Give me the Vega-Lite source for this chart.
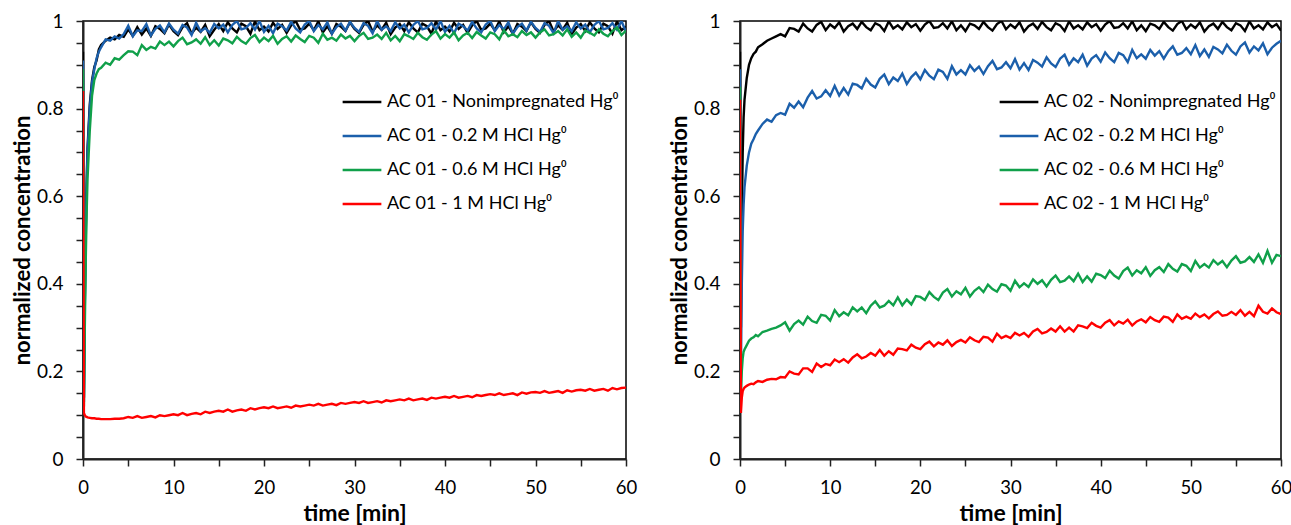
{
"$schema": "https://vega.github.io/schema/vega-lite/v6.json",
"padding": {"left": 10, "top": 11, "right": 0, "bottom": 0},
"background": "white",
"config": {
  "view": {"stroke": "#000", "strokeWidth": 1.5},
  "font": "Lato",
  "axis": {"domainColor": "#222", "domainWidth": 2, "tickColor": "#222", "tickWidth": 1.5, "tickSize": 7, "labelFontSize": 19, "labelColor": "#000", "labelFont": "Lato", "titleFont": "Lato", "titleFontSize": 22, "titleFontWeight": "bold", "titleColor": "#000", "grid": false, "labelOverlap": false},
  "axisX": {"titleFontSize": 23, "labelFontSize": 18.5}
},
"datasets": {
"ac01": [
{"t":0,"n":0.93,"b":0.91,"g":0.89,"r":0.84},
{"t":0.1,"n":0.14,"b":0.13,"g":0.12,"r":0.105},
{"t":0.2,"n":0.36,"b":0.35,"g":0.3,"r":0.1},
{"t":0.3,"n":0.52,"b":0.5,"g":0.45,"r":0.097},
{"t":0.4,"n":0.63,"b":0.62,"g":0.56,"r":0.096},
{"t":0.5,"n":0.71,"b":0.7,"g":0.64,"r":0.095},
{"t":0.75,"n":0.81,"b":0.8,"g":0.75,"r":0.094},
{"t":1,"n":0.865,"b":0.86,"g":0.83,"r":0.093},
{"t":1.25,"n":0.895,"b":0.89,"g":0.865,"r":0.093},
{"t":1.5,"n":0.91,"b":0.915,"g":0.88,"r":0.092},
{"t":1.75,"n":0.935,"b":0.93,"g":0.89,"r":0.092},
{"t":2,"n":0.945,"b":0.94,"g":0.893,"r":0.091},
{"t":2.5,"n":0.955,"b":0.958,"g":0.905,"r":0.091},
{"t":3,"n":0.962,"b":0.955,"g":0.9,"r":0.091},
{"t":3.5,"n":0.958,"b":0.965,"g":0.915,"r":0.092},
{"t":4,"n":0.968,"b":0.96,"g":0.912,"r":0.092},
{"t":4.5,"n":0.964,"b":0.97,"g":0.922,"r":0.093},
{"t":5,"n":0.981,"b":0.989,"g":0.931,"r":0.096},
{"t":5.5,"n":0.966,"b":0.965,"g":0.93,"r":0.094},
{"t":6,"n":0.986,"b":0.979,"g":0.922,"r":0.098},
{"t":6.5,"n":0.969,"b":0.977,"g":0.945,"r":0.094},
{"t":7,"n":0.983,"b":0.993,"g":0.934,"r":0.096},
{"t":7.5,"n":0.966,"b":0.967,"g":0.941,"r":0.098},
{"t":8,"n":0.988,"b":0.982,"g":0.937,"r":0.095},
{"t":8.5,"n":0.982,"b":0.99,"g":0.953,"r":0.1},
{"t":9,"n":0.972,"b":0.974,"g":0.945,"r":0.098},
{"t":9.5,"n":0.992,"b":0.994,"g":0.953,"r":0.1},
{"t":10,"n":0.977,"b":0.98,"g":0.942,"r":0.102},
{"t":10.5,"n":0.968,"b":0.971,"g":0.954,"r":0.1},
{"t":11,"n":0.986,"b":0.991,"g":0.962,"r":0.105},
{"t":11.5,"n":0.995,"b":0.985,"g":0.947,"r":0.1},
{"t":12,"n":0.971,"b":0.968,"g":0.951,"r":0.103},
{"t":12.5,"n":0.985,"b":0.996,"g":0.958,"r":0.105},
{"t":13,"n":0.975,"b":0.976,"g":0.948,"r":0.102},
{"t":13.5,"n":0.991,"b":0.984,"g":0.963,"r":0.108},
{"t":14,"n":0.965,"b":0.973,"g":0.945,"r":0.105},
{"t":14.5,"n":0.98,"b":0.993,"g":0.956,"r":0.108},
{"t":15,"n":0.993,"b":0.983,"g":0.944,"r":0.11},
{"t":15.5,"n":0.977,"b":0.992,"g":0.96,"r":0.108},
{"t":16,"n":0.997,"b":0.974,"g":0.956,"r":0.113},
{"t":16.5,"n":0.983,"b":0.991,"g":0.949,"r":0.108},
{"t":17,"n":0.974,"b":1.0,"g":0.964,"r":0.111},
{"t":17.5,"n":0.994,"b":0.981,"g":0.954,"r":0.113},
{"t":18,"n":0.988,"b":0.984,"g":0.948,"r":0.11},
{"t":18.5,"n":0.971,"b":0.995,"g":0.961,"r":0.116},
{"t":19,"n":0.999,"b":0.98,"g":0.968,"r":0.113},
{"t":19.5,"n":0.979,"b":1.0,"g":0.952,"r":0.116},
{"t":20,"n":0.987,"b":0.975,"g":0.962,"r":0.118},
{"t":20.5,"n":0.976,"b":0.989,"g":0.954,"r":0.116},
{"t":21,"n":0.996,"b":0.972,"g":0.966,"r":0.12},
{"t":21.5,"n":0.982,"b":0.994,"g":0.948,"r":0.116},
{"t":22,"n":0.991,"b":0.988,"g":0.959,"r":0.118},
{"t":22.5,"n":0.973,"b":0.978,"g":0.965,"r":0.12},
{"t":23,"n":0.99,"b":0.998,"g":0.953,"r":0.117},
{"t":23.5,"n":1.0,"b":0.983,"g":0.967,"r":0.122},
{"t":24,"n":0.98,"b":0.974,"g":0.959,"r":0.12},
{"t":24.5,"n":0.983,"b":0.992,"g":0.952,"r":0.122},
{"t":25,"n":0.994,"b":1.0,"g":0.966,"r":0.124},
{"t":25.5,"n":0.979,"b":0.977,"g":0.962,"r":0.122},
{"t":26,"n":0.999,"b":0.991,"g":0.95,"r":0.126},
{"t":26.5,"n":0.974,"b":0.981,"g":0.971,"r":0.122},
{"t":27,"n":0.988,"b":0.997,"g":0.957,"r":0.124},
{"t":27.5,"n":0.971,"b":0.971,"g":0.962,"r":0.126},
{"t":28,"n":0.993,"b":0.986,"g":0.955,"r":0.123},
{"t":28.5,"n":0.987,"b":0.994,"g":0.969,"r":0.128},
{"t":29,"n":0.977,"b":0.978,"g":0.96,"r":0.126},
{"t":29.5,"n":0.997,"b":0.998,"g":0.966,"r":0.128},
{"t":30,"n":0.982,"b":0.984,"g":0.954,"r":0.13},
{"t":30.5,"n":0.973,"b":0.975,"g":0.966,"r":0.128},
{"t":31,"n":0.991,"b":0.995,"g":0.973,"r":0.132},
{"t":31.5,"n":1.0,"b":0.989,"g":0.959,"r":0.128},
{"t":32,"n":0.976,"b":0.972,"g":0.962,"r":0.13},
{"t":32.5,"n":0.99,"b":1.0,"g":0.969,"r":0.132},
{"t":33,"n":0.98,"b":0.98,"g":0.959,"r":0.129},
{"t":33.5,"n":0.996,"b":0.988,"g":0.973,"r":0.134},
{"t":34,"n":0.97,"b":0.977,"g":0.956,"r":0.132},
{"t":34.5,"n":0.985,"b":0.997,"g":0.966,"r":0.134},
{"t":35,"n":0.993,"b":0.983,"g":0.954,"r":0.136},
{"t":35.5,"n":0.977,"b":0.992,"g":0.97,"r":0.134},
{"t":36,"n":0.997,"b":0.974,"g":0.965,"r":0.138},
{"t":36.5,"n":0.983,"b":0.991,"g":0.959,"r":0.134},
{"t":37,"n":0.974,"b":1.0,"g":0.973,"r":0.136},
{"t":37.5,"n":0.994,"b":0.981,"g":0.963,"r":0.138},
{"t":38,"n":0.988,"b":0.984,"g":0.957,"r":0.135},
{"t":38.5,"n":0.971,"b":0.995,"g":0.969,"r":0.14},
{"t":39,"n":0.999,"b":0.98,"g":0.977,"r":0.138},
{"t":39.5,"n":0.979,"b":1.0,"g":0.96,"r":0.14},
{"t":40,"n":0.987,"b":0.975,"g":0.97,"r":0.142},
{"t":40.5,"n":0.976,"b":0.989,"g":0.962,"r":0.14},
{"t":41,"n":0.996,"b":0.972,"g":0.974,"r":0.144},
{"t":41.5,"n":0.982,"b":0.994,"g":0.956,"r":0.14},
{"t":42,"n":0.991,"b":0.988,"g":0.967,"r":0.142},
{"t":42.5,"n":0.973,"b":0.978,"g":0.973,"r":0.144},
{"t":43,"n":0.99,"b":0.998,"g":0.961,"r":0.141},
{"t":43.5,"n":1.0,"b":0.983,"g":0.975,"r":0.146},
{"t":44,"n":0.98,"b":0.974,"g":0.967,"r":0.144},
{"t":44.5,"n":0.983,"b":0.992,"g":0.96,"r":0.146},
{"t":45,"n":0.994,"b":1.0,"g":0.974,"r":0.148},
{"t":45.5,"n":0.979,"b":0.977,"g":0.97,"r":0.146},
{"t":46,"n":0.999,"b":0.991,"g":0.958,"r":0.15},
{"t":46.5,"n":0.974,"b":0.981,"g":0.979,"r":0.146},
{"t":47,"n":0.988,"b":0.997,"g":0.965,"r":0.148},
{"t":47.5,"n":0.971,"b":0.971,"g":0.97,"r":0.15},
{"t":48,"n":0.993,"b":0.986,"g":0.963,"r":0.146},
{"t":48.5,"n":0.987,"b":0.994,"g":0.977,"r":0.152},
{"t":49,"n":0.977,"b":0.978,"g":0.968,"r":0.149},
{"t":49.5,"n":0.997,"b":0.998,"g":0.974,"r":0.152},
{"t":50,"n":0.982,"b":0.984,"g":0.962,"r":0.153},
{"t":50.5,"n":0.973,"b":0.975,"g":0.974,"r":0.151},
{"t":51,"n":0.991,"b":0.995,"g":0.981,"r":0.155},
{"t":51.5,"n":1.0,"b":0.989,"g":0.967,"r":0.151},
{"t":52,"n":0.976,"b":0.972,"g":0.97,"r":0.153},
{"t":52.5,"n":0.99,"b":1.0,"g":0.977,"r":0.155},
{"t":53,"n":0.98,"b":0.98,"g":0.967,"r":0.151},
{"t":53.5,"n":0.996,"b":0.988,"g":0.981,"r":0.157},
{"t":54,"n":0.97,"b":0.977,"g":0.964,"r":0.154},
{"t":54.5,"n":0.985,"b":0.997,"g":0.974,"r":0.157},
{"t":55,"n":0.993,"b":0.983,"g":0.962,"r":0.158},
{"t":55.5,"n":0.977,"b":0.992,"g":0.978,"r":0.156},
{"t":56,"n":0.997,"b":0.974,"g":0.973,"r":0.16},
{"t":56.5,"n":0.983,"b":0.991,"g":0.967,"r":0.156},
{"t":57,"n":0.974,"b":1.0,"g":0.981,"r":0.158},
{"t":57.5,"n":0.994,"b":0.981,"g":0.971,"r":0.16},
{"t":58,"n":0.988,"b":0.984,"g":0.965,"r":0.156},
{"t":58.5,"n":0.971,"b":0.995,"g":0.977,"r":0.162},
{"t":59,"n":0.999,"b":0.98,"g":0.985,"r":0.159},
{"t":59.5,"n":0.979,"b":1.0,"g":0.968,"r":0.162},
{"t":60,"n":0.987,"b":0.975,"g":0.978,"r":0.163}
],
"ac02": [
{"t":0,"n":0.93,"b":0.89,"g":0.85,"r":0.82},
{"t":0.1,"n":0.3,"b":0.2,"g":0.14,"r":0.105},
{"t":0.2,"n":0.55,"b":0.4,"g":0.2,"r":0.14},
{"t":0.3,"n":0.7,"b":0.52,"g":0.23,"r":0.155},
{"t":0.4,"n":0.78,"b":0.58,"g":0.245,"r":0.16},
{"t":0.5,"n":0.82,"b":0.62,"g":0.25,"r":0.163},
{"t":0.75,"n":0.87,"b":0.67,"g":0.26,"r":0.167},
{"t":1,"n":0.9,"b":0.7,"g":0.27,"r":0.17},
{"t":1.25,"n":0.915,"b":0.72,"g":0.275,"r":0.172},
{"t":1.5,"n":0.925,"b":0.73,"g":0.278,"r":0.171},
{"t":1.75,"n":0.93,"b":0.742,"g":0.283,"r":0.175},
{"t":2,"n":0.94,"b":0.75,"g":0.28,"r":0.178},
{"t":2.5,"n":0.947,"b":0.765,"g":0.29,"r":0.176},
{"t":3,"n":0.955,"b":0.775,"g":0.293,"r":0.181},
{"t":3.5,"n":0.96,"b":0.77,"g":0.297,"r":0.183},
{"t":4,"n":0.965,"b":0.785,"g":0.3,"r":0.182},
{"t":4.5,"n":0.97,"b":0.79,"g":0.305,"r":0.187},
{"t":5,"n":0.965,"b":0.786,"g":0.312,"r":0.186},
{"t":5.5,"n":0.984,"b":0.811,"g":0.293,"r":0.2},
{"t":6,"n":0.982,"b":0.802,"g":0.308,"r":0.195},
{"t":6.5,"n":0.976,"b":0.816,"g":0.316,"r":0.193},
{"t":7,"n":0.994,"b":0.803,"g":0.307,"r":0.207},
{"t":7.5,"n":0.983,"b":0.825,"g":0.325,"r":0.207},
{"t":8,"n":0.976,"b":0.84,"g":0.315,"r":0.199},
{"t":8.5,"n":0.991,"b":0.823,"g":0.311,"r":0.218},
{"t":9,"n":0.998,"b":0.828,"g":0.329,"r":0.21},
{"t":9.5,"n":0.979,"b":0.842,"g":0.327,"r":0.217},
{"t":10,"n":0.992,"b":0.829,"g":0.316,"r":0.214},
{"t":10.5,"n":0.984,"b":0.852,"g":0.34,"r":0.227},
{"t":11,"n":0.997,"b":0.83,"g":0.326,"r":0.221},
{"t":11.5,"n":0.976,"b":0.847,"g":0.335,"r":0.228},
{"t":12,"n":0.988,"b":0.832,"g":0.328,"r":0.22},
{"t":12.5,"n":0.994,"b":0.857,"g":0.346,"r":0.232},
{"t":13,"n":0.982,"b":0.854,"g":0.337,"r":0.239},
{"t":13.5,"n":0.998,"b":0.846,"g":0.346,"r":0.23},
{"t":14,"n":0.986,"b":0.868,"g":0.333,"r":0.234},
{"t":14.5,"n":0.979,"b":0.855,"g":0.35,"r":0.242},
{"t":15,"n":0.995,"b":0.848,"g":0.36,"r":0.236},
{"t":15.5,"n":0.99,"b":0.868,"g":0.346,"r":0.249},
{"t":16,"n":0.977,"b":0.878,"g":0.35,"r":0.236},
{"t":16.5,"n":0.999,"b":0.856,"g":0.361,"r":0.246},
{"t":17,"n":0.983,"b":0.871,"g":0.351,"r":0.238},
{"t":17.5,"n":0.99,"b":0.863,"g":0.369,"r":0.252},
{"t":18,"n":0.981,"b":0.88,"g":0.351,"r":0.251},
{"t":18.5,"n":0.997,"b":0.856,"g":0.364,"r":0.248},
{"t":19,"n":0.986,"b":0.872,"g":0.353,"r":0.261},
{"t":19.5,"n":0.993,"b":0.882,"g":0.372,"r":0.254},
{"t":20,"n":0.978,"b":0.867,"g":0.37,"r":0.251},
{"t":20.5,"n":0.992,"b":0.888,"g":0.363,"r":0.262},
{"t":21,"n":1.0,"b":0.875,"g":0.381,"r":0.268},
{"t":21.5,"n":0.984,"b":0.867,"g":0.37,"r":0.257},
{"t":22,"n":0.986,"b":0.889,"g":0.363,"r":0.266},
{"t":22.5,"n":0.995,"b":0.884,"g":0.38,"r":0.261},
{"t":23,"n":0.983,"b":0.868,"g":0.388,"r":0.271},
{"t":23.5,"n":0.999,"b":0.897,"g":0.371,"r":0.258},
{"t":24,"n":0.979,"b":0.878,"g":0.383,"r":0.267},
{"t":24.5,"n":0.99,"b":0.888,"g":0.376,"r":0.272},
{"t":25,"n":0.977,"b":0.878,"g":0.391,"r":0.266},
{"t":25.5,"n":0.994,"b":0.899,"g":0.371,"r":0.278},
{"t":26,"n":0.99,"b":0.886,"g":0.384,"r":0.271},
{"t":26.5,"n":0.982,"b":0.896,"g":0.392,"r":0.267},
{"t":27,"n":0.998,"b":0.879,"g":0.381,"r":0.279},
{"t":27.5,"n":0.986,"b":0.897,"g":0.398,"r":0.277},
{"t":28,"n":0.978,"b":0.909,"g":0.388,"r":0.268},
{"t":28.5,"n":0.993,"b":0.89,"g":0.382,"r":0.286},
{"t":29,"n":1.0,"b":0.894,"g":0.399,"r":0.276},
{"t":29.5,"n":0.981,"b":0.906,"g":0.396,"r":0.281},
{"t":30,"n":0.992,"b":0.892,"g":0.384,"r":0.276},
{"t":30.5,"n":0.984,"b":0.913,"g":0.407,"r":0.288},
{"t":31,"n":0.997,"b":0.889,"g":0.392,"r":0.282},
{"t":31.5,"n":0.976,"b":0.904,"g":0.401,"r":0.288},
{"t":32,"n":0.988,"b":0.888,"g":0.393,"r":0.279},
{"t":32.5,"n":0.994,"b":0.911,"g":0.41,"r":0.291},
{"t":33,"n":0.982,"b":0.905,"g":0.4,"r":0.297},
{"t":33.5,"n":0.998,"b":0.896,"g":0.408,"r":0.287},
{"t":34,"n":0.986,"b":0.917,"g":0.394,"r":0.29},
{"t":34.5,"n":0.979,"b":0.903,"g":0.409,"r":0.298},
{"t":35,"n":0.995,"b":0.895,"g":0.419,"r":0.291},
{"t":35.5,"n":0.99,"b":0.914,"g":0.404,"r":0.303},
{"t":36,"n":0.977,"b":0.923,"g":0.407,"r":0.291},
{"t":36.5,"n":0.999,"b":0.9,"g":0.417,"r":0.3},
{"t":37,"n":0.983,"b":0.915,"g":0.406,"r":0.291},
{"t":37.5,"n":0.99,"b":0.906,"g":0.423,"r":0.305},
{"t":38,"n":0.981,"b":0.923,"g":0.404,"r":0.303},
{"t":38.5,"n":0.997,"b":0.898,"g":0.417,"r":0.299},
{"t":39,"n":0.986,"b":0.914,"g":0.405,"r":0.311},
{"t":39.5,"n":0.993,"b":0.922,"g":0.423,"r":0.304},
{"t":40,"n":0.978,"b":0.907,"g":0.42,"r":0.3},
{"t":40.5,"n":0.992,"b":0.928,"g":0.413,"r":0.311},
{"t":41,"n":1.0,"b":0.915,"g":0.43,"r":0.317},
{"t":41.5,"n":0.984,"b":0.906,"g":0.419,"r":0.305},
{"t":42,"n":0.986,"b":0.927,"g":0.412,"r":0.314},
{"t":42.5,"n":0.995,"b":0.922,"g":0.429,"r":0.309},
{"t":43,"n":0.983,"b":0.906,"g":0.437,"r":0.318},
{"t":43.5,"n":0.999,"b":0.934,"g":0.419,"r":0.305},
{"t":44,"n":0.979,"b":0.915,"g":0.431,"r":0.314},
{"t":44.5,"n":0.99,"b":0.924,"g":0.424,"r":0.319},
{"t":45,"n":0.977,"b":0.914,"g":0.438,"r":0.312},
{"t":45.5,"n":0.994,"b":0.934,"g":0.418,"r":0.324},
{"t":46,"n":0.99,"b":0.921,"g":0.431,"r":0.317},
{"t":46.5,"n":0.982,"b":0.931,"g":0.438,"r":0.313},
{"t":47,"n":0.998,"b":0.914,"g":0.427,"r":0.325},
{"t":47.5,"n":0.986,"b":0.931,"g":0.445,"r":0.323},
{"t":48,"n":0.978,"b":0.942,"g":0.434,"r":0.313},
{"t":48.5,"n":0.993,"b":0.923,"g":0.428,"r":0.33},
{"t":49,"n":1.0,"b":0.927,"g":0.445,"r":0.32},
{"t":49.5,"n":0.981,"b":0.938,"g":0.441,"r":0.325},
{"t":50,"n":0.992,"b":0.924,"g":0.429,"r":0.32},
{"t":50.5,"n":0.984,"b":0.945,"g":0.452,"r":0.332},
{"t":51,"n":0.997,"b":0.92,"g":0.437,"r":0.324},
{"t":51.5,"n":0.976,"b":0.935,"g":0.445,"r":0.33},
{"t":52,"n":0.988,"b":0.918,"g":0.437,"r":0.321},
{"t":52.5,"n":0.994,"b":0.941,"g":0.454,"r":0.331},
{"t":53,"n":0.982,"b":0.935,"g":0.444,"r":0.337},
{"t":53.5,"n":0.998,"b":0.926,"g":0.452,"r":0.327},
{"t":54,"n":0.986,"b":0.946,"g":0.438,"r":0.329},
{"t":54.5,"n":0.979,"b":0.932,"g":0.453,"r":0.336},
{"t":55,"n":0.995,"b":0.923,"g":0.463,"r":0.329},
{"t":55.5,"n":0.99,"b":0.942,"g":0.448,"r":0.34},
{"t":56,"n":0.977,"b":0.951,"g":0.451,"r":0.327},
{"t":56.5,"n":0.999,"b":0.928,"g":0.461,"r":0.336},
{"t":57,"n":0.983,"b":0.942,"g":0.45,"r":0.326},
{"t":57.5,"n":0.99,"b":0.933,"g":0.467,"r":0.35},
{"t":58,"n":0.981,"b":0.949,"g":0.448,"r":0.336},
{"t":58.5,"n":0.997,"b":0.924,"g":0.475,"r":0.332},
{"t":59,"n":0.986,"b":0.939,"g":0.448,"r":0.344},
{"t":59.5,"n":0.993,"b":0.948,"g":0.466,"r":0.335},
{"t":60,"n":0.978,"b":0.955,"g":0.463,"r":0.331}
]
},
"spacing": 29,
"resolve": {"scale": {"color": "independent"}, "legend": {"color": "independent"}},
"hconcat": [
{
  "width": 543, "height": 438,
  "data": {"name": "ac01"},
  "transform": [{"fold": ["n", "b", "g", "r"], "as": ["s", "v"]}],
  "mark": {"type": "line", "strokeWidth": 2.4, "clip": true},
  "encoding": {
    "x": {"field": "t", "type": "quantitative", "scale": {"domain": [0, 60], "nice": false},
      "axis": {"title": "time [min]", "values": [0,5,10,15,20,25,30,35,40,45,50,55,60], "labelExpr": "round(datum.value) % 10 == 0 ? datum.label : ''", "labelFlush": false, "labelPadding": 12, "titlePadding": 6}},
    "y": {"field": "v", "type": "quantitative", "scale": {"domain": [0, 1], "nice": false},
      "axis": {"title": "normalized concentration", "values": [0,0.05,0.1,0.15,0.2,0.25,0.3,0.35,0.4,0.45,0.5,0.55,0.6,0.65,0.7,0.75,0.8,0.85,0.9,0.95,1], "format": "~g", "labelExpr": "round(datum.value*20) % 4 == 0 ? datum.label : ''", "labelPadding": 13, "titlePadding": 2}},
    "color": {"field": "s", "type": "nominal",
      "scale": {"domain": ["n", "b", "g", "r"], "range": ["#000000", "#1b5fab", "#10a04a", "#ff0000"]},
      "legend": {"orient": "none", "legendX": 258, "legendY": 60, "title": null, "padding": 0, "symbolType": "stroke", "symbolSize": 1500, "symbolStrokeWidth": 2.4, "labelFontSize": 18, "labelFont": "Lato", "labelColor": "#000", "labelLimit": 400, "labelOffset": 4, "rowPadding": 4,
        "labelExpr": "datum.label == 'n' ? 'AC 01 - Nonimpregnated Hg⁰' : datum.label == 'b' ? 'AC 01 - 0.2 M HCl Hg⁰' : datum.label == 'g' ? 'AC 01 - 0.6 M HCl Hg⁰' : 'AC 01 - 1 M HCl Hg⁰'"}}
  }
},
{
  "width": 541, "height": 438,
  "data": {"name": "ac02"},
  "transform": [{"fold": ["n", "b", "g", "r"], "as": ["s", "v"]}],
  "mark": {"type": "line", "strokeWidth": 2.4, "clip": true},
  "encoding": {
    "x": {"field": "t", "type": "quantitative", "scale": {"domain": [0, 60], "nice": false},
      "axis": {"title": "time [min]", "values": [0,5,10,15,20,25,30,35,40,45,50,55,60], "labelExpr": "round(datum.value) % 10 == 0 ? datum.label : ''", "labelFlush": false, "labelPadding": 12, "titlePadding": 6}},
    "y": {"field": "v", "type": "quantitative", "scale": {"domain": [0, 1], "nice": false},
      "axis": {"title": "normalized concentration", "values": [0,0.05,0.1,0.15,0.2,0.25,0.3,0.35,0.4,0.45,0.5,0.55,0.6,0.65,0.7,0.75,0.8,0.85,0.9,0.95,1], "format": "~g", "labelExpr": "round(datum.value*20) % 4 == 0 ? datum.label : ''", "labelPadding": 13, "titlePadding": 2}},
    "color": {"field": "s", "type": "nominal",
      "scale": {"domain": ["n", "b", "g", "r"], "range": ["#000000", "#1b5fab", "#10a04a", "#ff0000"]},
      "legend": {"orient": "none", "legendX": 258, "legendY": 60, "title": null, "padding": 0, "symbolType": "stroke", "symbolSize": 1500, "symbolStrokeWidth": 2.4, "labelFontSize": 18, "labelFont": "Lato", "labelColor": "#000", "labelLimit": 400, "labelOffset": 4, "rowPadding": 4,
        "labelExpr": "datum.label == 'n' ? 'AC 02 - Nonimpregnated Hg⁰' : datum.label == 'b' ? 'AC 02 - 0.2 M HCl Hg⁰' : datum.label == 'g' ? 'AC 02 - 0.6 M HCl Hg⁰' : 'AC 02 - 1 M HCl Hg⁰'"}}
  }
}
]
}
